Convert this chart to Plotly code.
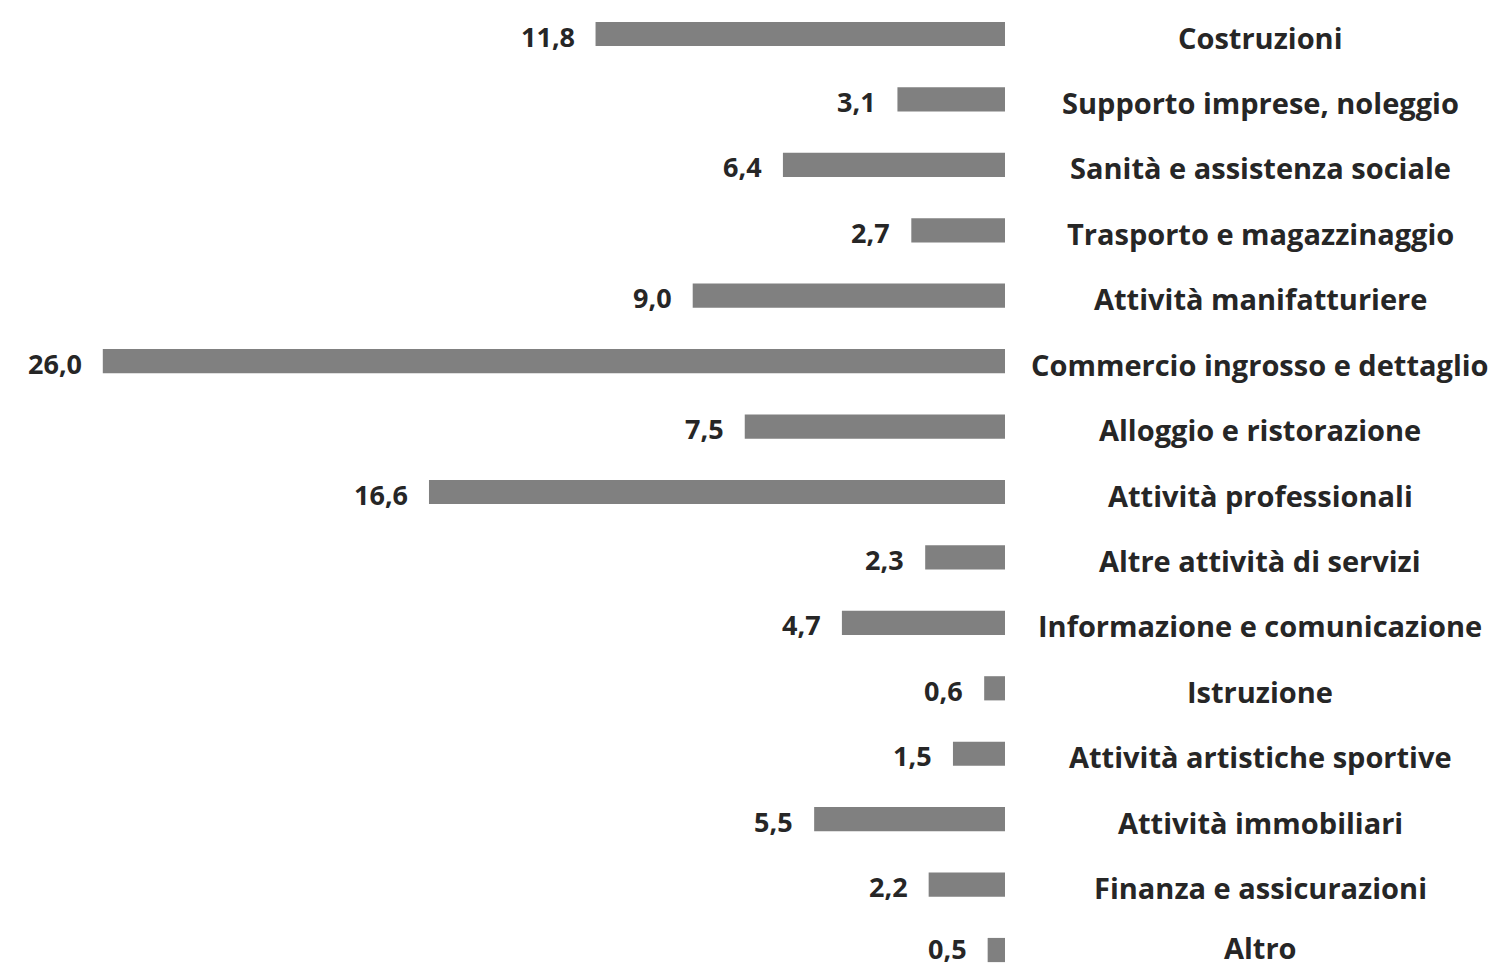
import plotly.graph_objects as go

# Sector shares (%), listed top to bottom
categories = [
    "Costruzioni",
    "Supporto imprese, noleggio",
    "Sanità e assistenza sociale",
    "Trasporto e magazzinaggio",
    "Attività manifatturiere",
    "Commercio ingrosso e dettaglio",
    "Alloggio e ristorazione",
    "Attività professionali",
    "Altre attività di servizi",
    "Informazione e comunicazione",
    "Istruzione",
    "Attività artistiche sportive",
    "Attività immobiliari",
    "Finanza e assicurazioni",
    "Altro",
]
values = [11.8, 3.1, 6.4, 2.7, 9.0, 26.0, 7.5, 16.6, 2.3, 4.7, 0.6, 1.5, 5.5, 2.2, 0.5]

W, H = 1494, 970
plot_right = 1005          # pixel where the bars start (value 0)
px_per_unit = 34.7
row_px = 65.43
first_row_px = 34

bar_color = "#808080"
text_color = "#262626"
font_family = "'Open Sans', Lato, sans-serif"

fig = go.Figure(
    go.Bar(
        x=values,
        y=list(range(len(categories))),
        orientation="h",
        marker=dict(color=bar_color, line=dict(width=0)),
        width=0.37,
        hoverinfo="skip",
    )
)

last = len(categories) - 1

# Value labels to the left of each bar end
for i, v in enumerate(values):
    fig.add_annotation(
        x=v, y=i, xref="x", yref="y",
        text=f"{v:.1f}".replace(".", ","),
        showarrow=False, xanchor="right", yanchor="middle",
        xshift=-19, yshift=2 if i == last else -2,
        font=dict(family=font_family, size=27, color=text_color, weight="bold"),
    )

# Category names centred to the right of the bars
label_center_paper = 1260 / plot_right
for i, c in enumerate(categories):
    fig.add_annotation(
        x=label_center_paper, y=i, xref="paper", yref="y",
        text=c, showarrow=False, xanchor="center", yanchor="middle",
        yshift=3 if i == last else -3,
        font=dict(family=font_family, size=29, color=text_color, weight="bold"),
    )

y_top = -first_row_px / row_px
y_bottom = (H - first_row_px) / row_px

fig.update_layout(
    width=W, height=H,
    margin=dict(l=0, r=W - plot_right, t=0, b=0),
    plot_bgcolor="white", paper_bgcolor="white",
    showlegend=False,
    xaxis=dict(range=[plot_right / px_per_unit, 0], visible=False, fixedrange=True),
    yaxis=dict(range=[y_bottom, y_top], visible=False, fixedrange=True),
)

fig.write_html("out.html", config={"displayModeBar": False})
